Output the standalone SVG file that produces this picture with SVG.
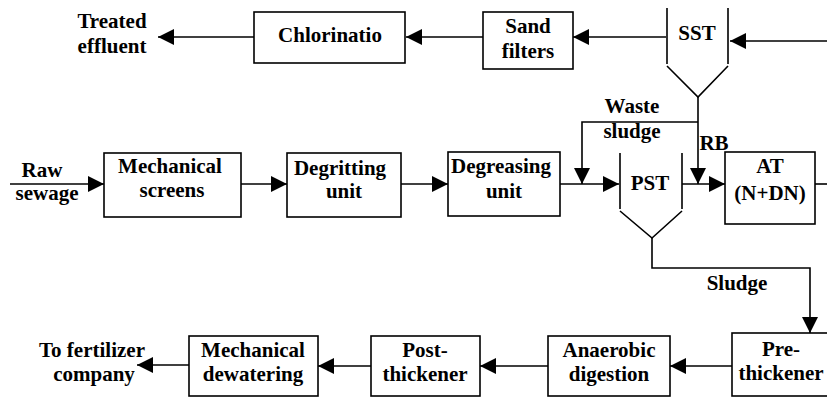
<svg xmlns="http://www.w3.org/2000/svg" width="827" height="397" viewBox="0 0 827 397" font-family="Liberation Serif, Times New Roman, serif">
<defs>
<style>
.box{fill:#fff;stroke:#000;stroke-width:1.6}
.wall{fill:none;stroke:#000;stroke-width:1.6}
.c{fill:none;stroke:#000;stroke-width:1.6}
text{font-weight:bold;font-size:21px;fill:#000;text-anchor:middle}
</style>
<marker id="ah" markerUnits="userSpaceOnUse" markerWidth="17" markerHeight="17" refX="16" refY="8" orient="auto">
<path d="M0,0 L16,8 L0,16 z" fill="#000"/>
</marker>
</defs>
<rect width="827" height="397" fill="#fff"/>
<g id="connectors">
<path class="c" d="M254,37 H158" marker-end="url(#ah)"/>
<path class="c" d="M483,37 H406" marker-end="url(#ah)"/>
<path class="c" d="M666,37 H573" marker-end="url(#ah)"/>
<path class="c" d="M827,41 H730" marker-end="url(#ah)"/>
<path class="c" d="M698,97 V184" marker-end="url(#ah)"/>
<path class="c" d="M698,122 H582 V184" marker-end="url(#ah)"/>
<path class="c" d="M10,184 H104" marker-end="url(#ah)"/>
<path class="c" d="M241,184 H287" marker-end="url(#ah)"/>
<path class="c" d="M401,184 H448" marker-end="url(#ah)"/>
<path class="c" d="M560,184 H619" marker-end="url(#ah)"/>
<path class="c" d="M682,184 H725" marker-end="url(#ah)"/>
<path class="c" d="M815,184 H827"/>
<path class="c" d="M652,238 V268 H810 V333" marker-end="url(#ah)"/>
<path class="c" d="M732,366 H670" marker-end="url(#ah)"/>
<path class="c" d="M548,366 H480" marker-end="url(#ah)"/>
<path class="c" d="M371,366 H318" marker-end="url(#ah)"/>
<path class="c" d="M189,365 H137" marker-end="url(#ah)"/>
</g>
<g id="treated">
<text x="112" y="28">Treated</text>
<text x="112" y="53">effluent</text>
</g>
<g id="chlorination">
<rect class="box" x="254" y="12" width="151" height="51"/>
<text x="330" y="42">Chlorinatio</text>
</g>
<g id="sand">
<rect class="box" x="483" y="12" width="90" height="57"/>
<text x="528" y="33">Sand</text>
<text x="528" y="58">filters</text>
</g>
<g id="sst">
<path class="wall" d="M667,8 V64 M728,8 V64 M667,66 L698,97 L728,66"/>
<text x="697" y="40">SST</text>
</g>
<g id="waste">
<text x="632" y="113">Waste</text>
<text x="632" y="138">sludge</text>
</g>
<g id="rb">
<text x="714" y="150">RB</text>
</g>
<g id="raw">
<text x="42" y="177">Raw</text>
<text x="47" y="200">sewage</text>
</g>
<g id="screens">
<rect class="box" x="104" y="153" width="137" height="64"/>
<text x="170" y="173">Mechanical</text>
<text x="172" y="197">screens</text>
</g>
<g id="degritting">
<rect class="box" x="287" y="153" width="114" height="64"/>
<text x="340" y="175">Degritting</text>
<text x="344" y="198">unit</text>
</g>
<g id="degreasing">
<rect class="box" x="448" y="152" width="112" height="64"/>
<text x="501" y="173">Degreasing</text>
<text x="504" y="198">unit</text>
</g>
<g id="pst">
<path class="wall" d="M620,153 V209 M682,153 V209 M620,211 L652,238 L682,211"/>
<text x="650" y="190">PST</text>
</g>
<g id="at">
<rect class="box" x="725" y="152" width="90" height="72"/>
<text x="770" y="173">AT</text>
<text x="770" y="200">(N+DN)</text>
</g>
<g id="sludge">
<text x="737" y="290">Sludge</text>
</g>
<g id="prethickener">
<rect class="box" x="732" y="333" width="100" height="63"/>
<text x="781" y="356">Pre-</text>
<text x="781" y="380">thickener</text>
</g>
<g id="anaerobic">
<rect class="box" x="548" y="336" width="122" height="60"/>
<text x="609" y="357">Anaerobic</text>
<text x="609" y="381">digestion</text>
</g>
<g id="postthickener">
<rect class="box" x="371" y="336" width="109" height="60"/>
<text x="425" y="357">Post-</text>
<text x="425" y="381">thickener</text>
</g>
<g id="dewatering">
<rect class="box" x="189" y="336" width="129" height="60"/>
<text x="253" y="357">Mechanical</text>
<text x="253" y="381">dewatering</text>
</g>
<g id="fertilizer">
<text x="92" y="357">To fertilizer</text>
<text x="94" y="381">company</text>
</g>
</svg>
